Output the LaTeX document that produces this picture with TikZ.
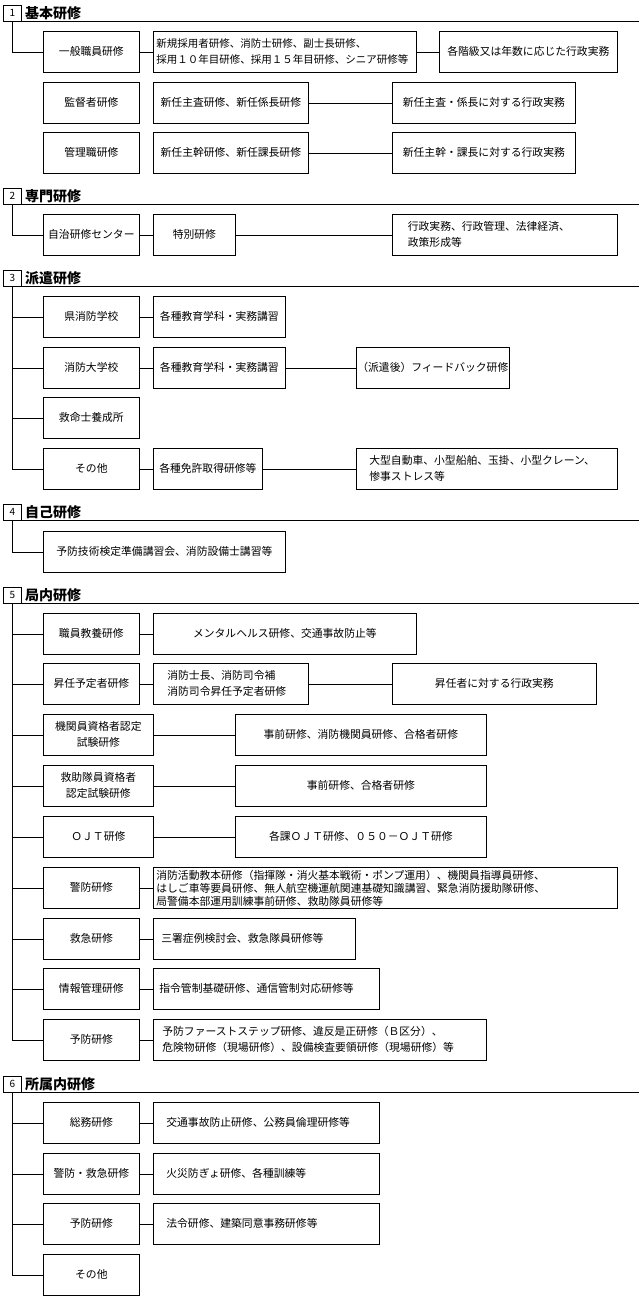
\documentclass[tikz,border=0pt]{standalone}
\usepackage{fontspec}
\setmainfont{Noto Sans CJK JP}
\usetikzlibrary{positioning}
\begin{document}
\begin{tikzpicture}[x=1pt,y=-1pt,line width=0.7pt,
		font=\fontsize{10.8}{16}\selectfont,
		num/.style={draw,anchor=north west,minimum width=18pt,minimum height=16pt,inner sep=0pt,font=\fontsize{10}{10}\selectfont},
		head/.style={inner sep=0pt,font=\fontsize{14}{16}\selectfont\bfseries},
		cbox/.style={draw,anchor=north west,minimum width=#1,minimum height=41pt,inner sep=0pt,align=center},
		lbox/.style={draw,anchor=north west,text width=#1,minimum height=41pt,inner ysep=0pt,align=left}]
	\useasboundingbox (0,0) rectangle (639,1296);
	\coordinate (R) at (639,0);
	\draw
	node[num] at (3,5) (n1) {1}
	node[head,right=3pt of n1] (h1) {基本研修}
	node[cbox=96pt] at (43,31) (ippan) {一般職員研修}
	node[lbox=257pt,inner xsep=3pt,font=\fontsize{10.5}{16}\selectfont] at (153,31) (ippanc) {新規採用者研修、消防士研修、副士長研修、\\採用１０年目研修、採用１５年目研修、シニア研修等}
	node[cbox=178pt] at (439,31) (ippanr) {各階級又は年数に応じた行政実務}
	node[cbox=96pt] at (43,82) (kantoku) {監督者研修}
	node[cbox=155pt] at (153,82) (kantokuc) {新任主査研修、新任係長研修}
	node[cbox=183pt] at (392,82) (kantokur) {新任主査・係長に対する行政実務}
	node[cbox=96pt] at (43,132) (kanri) {管理職研修}
	node[cbox=155pt] at (153,132) (kanric) {新任主幹研修、新任課長研修}
	node[cbox=183pt] at (392,132) (kanrir) {新任主幹・課長に対する行政実務}

	node[num] at (3,188) (n2) {2}
	node[head,right=3pt of n2] (h2) {専門研修}
	node[cbox=96pt] at (43,214) (jichi) {自治研修センター}
	node[cbox=82pt] at (153,214) (tokubetsu) {特別研修}
	node[lbox=194pt,inner xsep=15.5pt] at (392,214) (tokubetsur) {行政実務、行政管理、法律経済、\\政策形成等}

	node[num] at (3,270) (n3) {3}
	node[head,right=3pt of n3] (h3) {派遣研修}
	node[cbox=96pt] at (43,296) (ken) {県消防学校}
	node[cbox=132pt] at (153,296) (kenc) {各種教育学科・実務講習}
	node[cbox=96pt] at (43,347) (daigaku) {消防大学校}
	node[cbox=132pt] at (153,347) (daigakuc) {各種教育学科・実務講習}
	node[cbox=153pt] at (356,347) (daigakur) {（派遣後）フィードバック研修}
	node[cbox=96pt] at (43,397) (kyumei) {救命士養成所}
	node[cbox=96pt] at (43,448) (sonota) {その他}
	node[cbox=109pt] at (153,448) (sonotac) {各種免許取得研修等}
	node[lbox=235pt,inner xsep=13pt] at (356,448) (sonotar) {大型自動車、小型船舶、玉掛、小型クレーン、\\惨事ストレス等}

	node[num] at (3,504) (n4) {4}
	node[head,right=3pt of n4] (h4) {自己研修}
	node[cbox=242pt] at (43,531) (yobogi) {予防技術検定準備講習会、消防設備士講習等}

	node[num] at (3,587) (n5) {5}
	node[head,right=3pt of n5] (h5) {局内研修}
	node[cbox=96pt] at (43,613) (shokuin) {職員教養研修}
	node[cbox=263pt] at (153,613) (shokuinc) {メンタルヘルス研修、交通事故防止等}
	node[cbox=96pt] at (43,663) (shonin) {昇任予定者研修}
	node[lbox=127pt,inner xsep=14pt] at (153,663) (shoninc) {消防士長、消防司令補\\消防司令昇任予定者研修}
	node[cbox=204pt] at (392,663) (shoninr) {昇任者に対する行政実務}
	node[cbox=110pt] at (43,714) (kikan) {機関員資格者認定\\試験研修}
	node[cbox=251pt] at (235,714) (kikanc) {事前研修、消防機関員研修、合格者研修}
	node[cbox=110pt] at (43,765) (kyujo) {救助隊員資格者\\認定試験研修}
	node[cbox=251pt] at (235,765) (kyujoc) {事前研修、合格者研修}
	node[cbox=110pt] at (43,816) (ojt) {ＯＪＴ研修}
	node[cbox=251pt] at (235,816) (ojtc) {各課ＯＪＴ研修、０５０－ＯＪＴ研修}
	node[cbox=96pt] at (43,867) (keibo) {警防研修}
	node[lbox=458pt,inner xsep=3pt,font=\fontsize{10.8}{13}\selectfont] at (153,867) (keiboc) {消防活動教本研修（指揮隊・消火基本戦術・ポンプ運用）、機関員指導員研修、\\はしご車等要員研修、無人航空機運航関連基礎知識講習、緊急消防援助隊研修、\\局警備本部運用訓練事前研修、救助隊員研修等}
	node[cbox=96pt] at (43,918) (kyukyu) {救急研修}
	node[lbox=186pt,inner xsep=8pt] at (153,918) (kyukyuc) {三署症例検討会、救急隊員研修等}
	node[cbox=96pt] at (43,968) (joho) {情報管理研修}
	node[lbox=214pt,inner xsep=6pt] at (153,968) (johoc) {指令管制基礎研修、通信管制対応研修等}
	node[cbox=96pt] at (43,1019) (yobo) {予防研修}
	node[lbox=315pt,inner xsep=9pt] at (153,1019) (yoboc) {予防ファーストステップ研修、違反是正研修（Ｂ区分）、\\危険物研修（現場研修）、設備検査要領研修（現場研修）等}

	node[num] at (3,1076) (n6) {6}
	node[head,right=3pt of n6] (h6) {所属内研修}
	node[cbox=96pt] at (43,1102) (somu) {総務研修}
	node[lbox=200pt,inner xsep=13pt] at (153,1102) (somuc) {交通事故防止研修、公務員倫理研修等}
	node[cbox=96pt] at (43,1153) (keikyu) {警防・救急研修}
	node[lbox=200pt,inner xsep=13pt] at (153,1153) (keikyuc) {火災防ぎょ研修、各種訓練等}
	node[cbox=96pt] at (43,1203) (yobo6) {予防研修}
	node[lbox=200pt,inner xsep=13pt] at (153,1203) (yobo6c) {法令研修、建築同意事務研修等}
	node[cbox=96pt] at (43,1254) (sonota6) {その他}

	(n1.south east) -- (n1.south east -| R)
	(n2.south east) -- (n2.south east -| R)
	(n3.south east) -- (n3.south east -| R)
	(n4.south east) -- (n4.south east -| R)
	(n5.south east) -- (n5.south east -| R)
	(n6.south east) -- (n6.south east -| R)

	(n1) |- (ippan)
	(ippan) -- (ippanc)
	(ippanc) -- (ippanr)
	(kantokuc) -- (kantokur)
	(kanric) -- (kanrir)

	(n2) |- (jichi)
	(jichi) -- (tokubetsu)
	(tokubetsu) -- (tokubetsur)

	(n3) |- (ken)
	(n3) |- (daigaku)
	(n3) |- (kyumei)
	(n3) |- (sonota)
	(ken) -- (kenc)
	(daigaku) -- (daigakuc)
	(daigakuc) -- (daigakur)
	(sonota) -- (sonotac)
	(sonotac) -- (sonotar)

	(n4) |- (yobogi)

	(n5) |- (shokuin)
	(n5) |- (shonin)
	(n5) |- (kikan)
	(n5) |- (kyujo)
	(n5) |- (ojt)
	(n5) |- (keibo)
	(n5) |- (kyukyu)
	(n5) |- (joho)
	(n5) |- (yobo)
	(shokuin) -- (shokuinc)
	(shonin) -- (shoninc)
	(shoninc) -- (shoninr)
	(kikan) -- (kikanc)
	(kyujo) -- (kyujoc)
	(ojt) -- (ojtc)
	(keibo) -- (keiboc)
	(kyukyu) -- (kyukyuc)
	(joho) -- (johoc)
	(yobo) -- (yoboc)

	(n6) |- (somu)
	(n6) |- (keikyu)
	(n6) |- (yobo6)
	(n6) |- (sonota6)
	(somu) -- (somuc)
	(keikyu) -- (keikyuc)
	(yobo6) -- (yobo6c)
	;
\end{tikzpicture}
\end{document}
